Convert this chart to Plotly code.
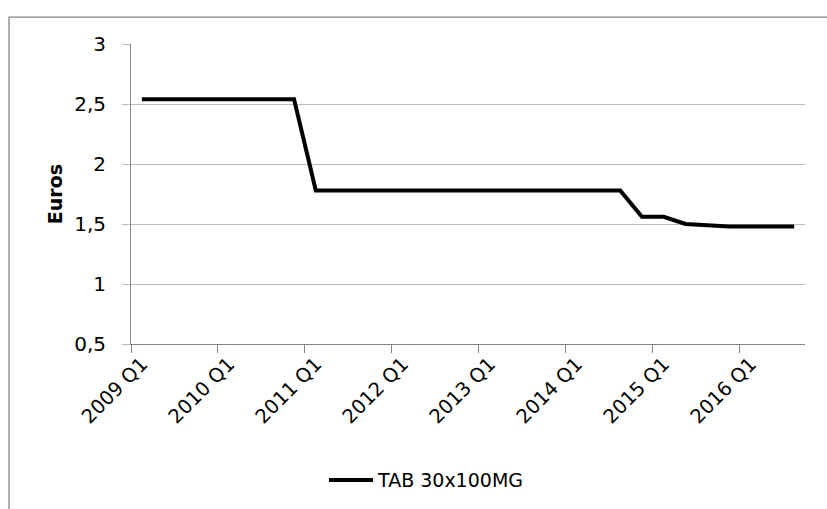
import plotly.graph_objects as go

# ---- data ----
years = list(range(2009, 2017))
quarters = [f"{y} Q{q}" for y in years for q in range(1, 5)][:31]  # 2009 Q1 .. 2016 Q3
prices = [2.54] * 8 + [1.78] * 15 + [1.56, 1.56, 1.50, 1.49, 1.48, 1.48, 1.48, 1.48]
series_name = "TAB 30x100MG"
y_tick_vals = [0.5, 1, 1.5, 2, 2.5, 3]
y_tick_text = ["0,5", "1", "1,5", "2", "2,5", "3"]

idx = list(range(len(quarters)))
label_idx = idx[::4]
label_txt = [quarters[i] for i in label_idx]
boundary_idx = [i - 0.5 for i in label_idx]

FONT = "DejaVu Sans"
GRID = "#BEBEBE"
AXIS = "#868686"

fig = go.Figure()
fig.add_trace(go.Scatter(
    x=idx, y=prices, mode="lines", name=series_name,
    line=dict(color="black", width=4),
    showlegend=True,
))

fig.update_layout(
    width=827, height=509,
    margin=dict(l=131, r=22, t=44, b=164),
    plot_bgcolor="white", paper_bgcolor="white",
    font=dict(family=FONT, size=18, color="black"),
    separators=", ",
    showlegend=True,
    legend=dict(orientation="h", x=(427 - 131) / 674, xanchor="center",
                y=-0.449, yanchor="middle",
                font=dict(family=FONT, size=19), itemwidth=44),
    shapes=[dict(type="rect", xref="paper", yref="paper",
                 x0=(9 - 131) / 674, x1=1.2, y0=-0.7, y1=(345 - 17) / 301,
                 line=dict(color=AXIS, width=1.3), layer="below")],
)

fig.update_xaxes(
    range=[-0.5, len(quarters) - 0.5],
    tickmode="array", tickvals=label_idx, ticktext=label_txt,
    tickangle=-45, ticks="", ticklabelstandoff=0,
    tickfont=dict(family=FONT, size=19.5),
    showgrid=False, zeroline=False,
    showline=True, linecolor=AXIS, linewidth=1,
    minor=dict(tickmode="array", tickvals=boundary_idx, ticks="outside",
               ticklen=8, tickcolor=AXIS, tickwidth=1, showgrid=False),
)
fig.update_yaxes(
    range=[0.5, 3],
    tickmode="array", tickvals=y_tick_vals, ticktext=y_tick_text,
    ticks="outside", ticklen=8, tickcolor=GRID, tickwidth=1,
    ticklabelstandoff=12,
    tickfont=dict(family=FONT, size=20),
    showgrid=True, gridcolor=GRID, gridwidth=1,
    zeroline=False,
    showline=True, linecolor=AXIS, linewidth=1,
    title=dict(text="<b>Euros</b>", font=dict(family=FONT, size=19), standoff=6),
)

fig.write_html("out.html")
